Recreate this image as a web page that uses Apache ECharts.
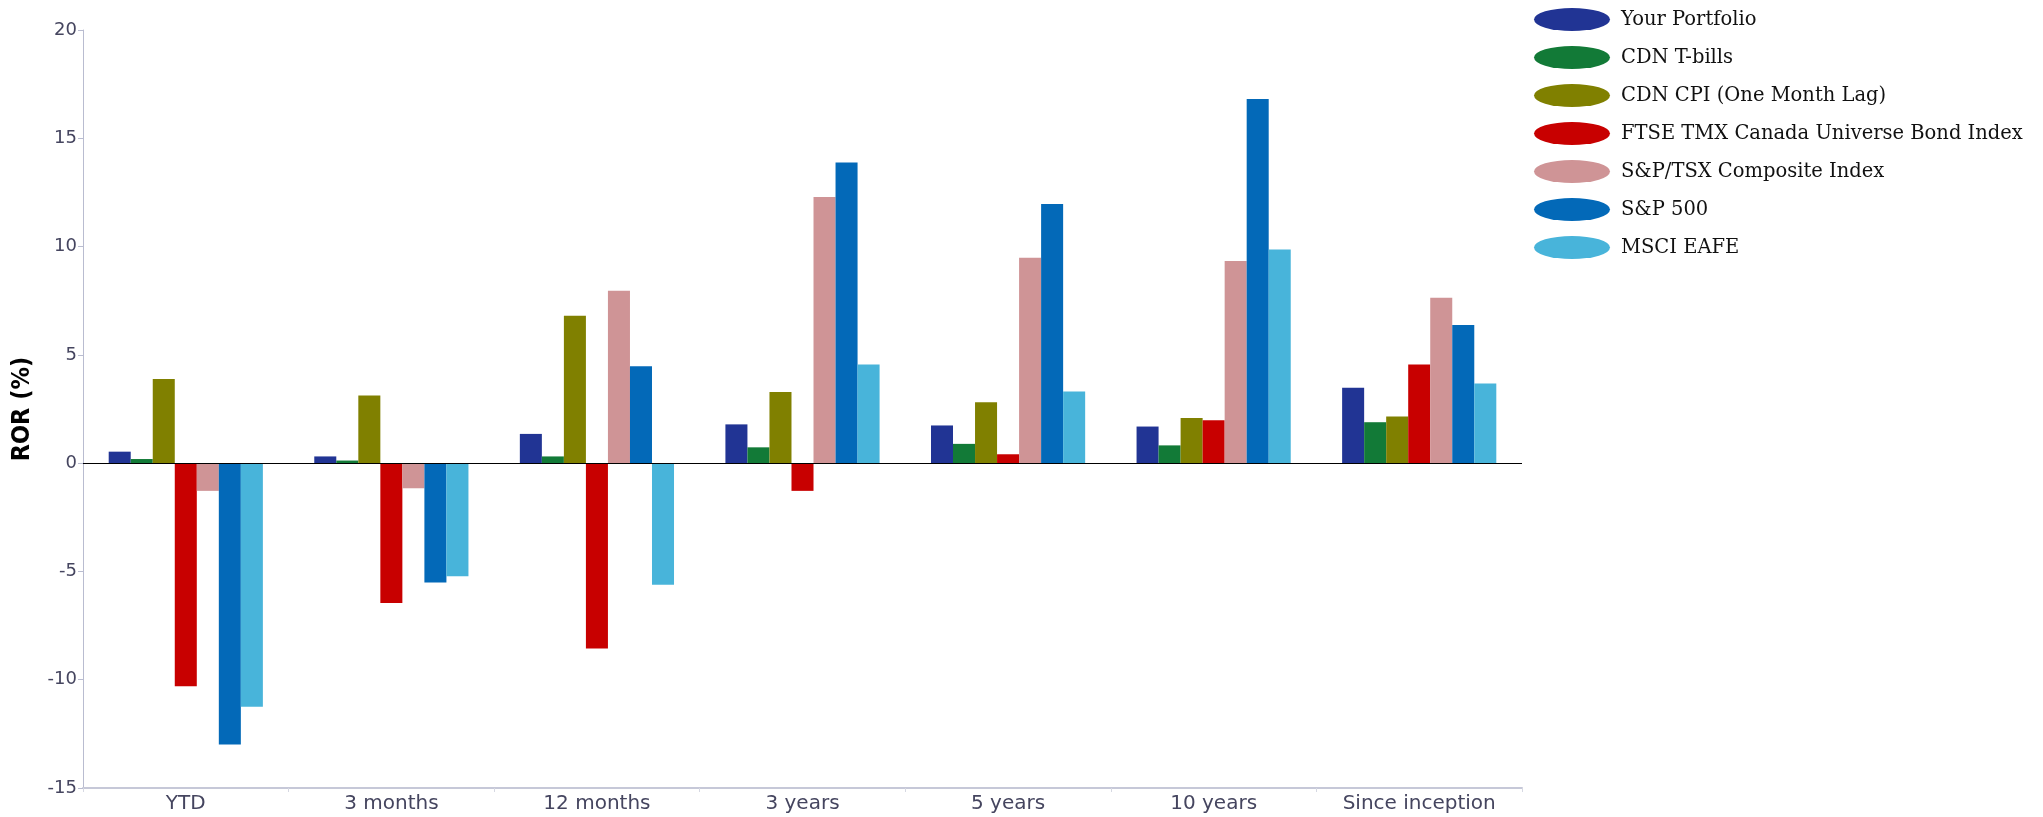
<!DOCTYPE html>
<html>
<head>
<meta charset="utf-8">
<title>Rate of Return</title>
<script src="https://cdn.jsdelivr.net/npm/echarts@6/dist/echarts.min.js"></script>
<style>
  html, body { margin: 0; padding: 0; background: #ffffff; }
  #chart { width: 2043px; height: 817px; }
</style>
</head>
<body>
<div id="chart"></div>
<script>
// Periods on the category axis
const periods = ['YTD', '3 months', '12 months', '3 years', '5 years', '10 years', 'Since inception'];

// Rate of return (%) per series, one value per period
const yourPortfolio = [0.53, 0.31, 1.35, 1.79, 1.74, 1.69, 3.48];
const cdnTBills     = [0.19, 0.12, 0.31, 0.73, 0.89, 0.82, 1.89];
const cdnCpi        = [3.89, 3.12, 6.80, 3.29, 2.81, 2.08, 2.15];
const ftseBond      = [-10.30, -6.46, -8.56, -1.28, 0.41, 1.98, 4.55];
const spTsx         = [-1.28, -1.16, 7.96, 12.29, 9.48, 9.33, 7.64];
const sp500         = [-12.99, -5.51, 4.47, 13.88, 11.97, 16.81, 6.38];
const msciEafe      = [-11.25, -5.22, -5.61, 4.55, 3.31, 9.87, 3.68];

// Value axis tick labels
const yTicks = [-15, -10, -5, 0, 5, 10, 15, 20];

const seriesDefs = [
  { name: 'Your Portfolio', data: yourPortfolio, color: '#213494' },
  { name: 'CDN T-bills', data: cdnTBills, color: '#127a37' },
  { name: 'CDN CPI (One Month Lag)', data: cdnCpi, color: '#808000' },
  { name: 'FTSE TMX Canada Universe Bond Index', data: ftseBond, color: '#c80000' },
  { name: 'S&P/TSX Composite Index', data: spTsx, color: '#cf9496' },
  { name: 'S&P 500', data: sp500, color: '#0369b8' },
  { name: 'MSCI EAFE', data: msciEafe, color: '#48b4da' }
];

const ellipseIcon = 'path://M0,11.5A38,11.5 0 1,0 76,11.5A38,11.5 0 1,0 0,11.5Z';

const chart = echarts.init(document.getElementById('chart'), null, { renderer: 'canvas' });

const series = seriesDefs.map((s, i) => {
  const item = {
    name: s.name,
    type: 'bar',
    data: s.data,
    barGap: '0%',
    barCategoryGap: '25%',
    itemStyle: { color: s.color },
    emphasis: { disabled: true }
  };
  if (i === 0) {
    // zero baseline across the plot
    item.markLine = {
      silent: true,
      symbol: ['none', 'none'],
      label: { show: false },
      lineStyle: { color: '#000000', width: 1.2, type: 'solid' },
      data: [{ yAxis: 0 }],
      z: 10
    };
  }
  return item;
});

chart.setOption({
  animation: false,
  backgroundColor: '#ffffff',
  grid: { left: 83, top: 30, width: 1439, height: 758, containLabel: false },
  legend: {
    orient: 'vertical',
    left: 1529,
    top: 3,
    itemWidth: 78,
    itemHeight: 23,
    itemGap: 15,
    icon: ellipseIcon,
    textStyle: {
      fontFamily: 'DejaVu Serif',
      fontSize: 19.5,
      color: '#111111',
      padding: [0, 0, 0, 5]
    },
    data: seriesDefs.map(s => s.name)
  },
  xAxis: {
    type: 'category',
    data: periods,
    axisLine: { onZero: false, lineStyle: { color: '#c6c8d8', width: 2 } },
    axisTick: { show: true, alignWithLabel: false, length: 4, lineStyle: { color: '#d6d8e2' } },
    axisLabel: {
      fontFamily: 'DejaVu Sans',
      fontSize: 20,
      color: '#45455f',
      margin: 6
    },
    splitLine: { show: false }
  },
  yAxis: {
    type: 'value',
    min: yTicks[0],
    max: yTicks[yTicks.length - 1],
    interval: 5,
    name: 'ROR (%)',
    nameLocation: 'middle',
    nameGap: 48,
    nameRotate: 90,
    nameTextStyle: {
      fontFamily: 'DejaVu Sans Condensed',
      fontWeight: 'bold',
      fontSize: 25,
      color: '#000000'
    },
    axisLine: { show: true, lineStyle: { color: '#b9bcd0', width: 1 } },
    axisTick: { show: true, length: 5, lineStyle: { color: '#b9bcd0' } },
    axisLabel: {
      fontFamily: 'DejaVu Sans',
      fontSize: 18,
      color: '#45455f',
      margin: 6
    },
    splitLine: { show: false }
  },
  series: series
});
</script>
</body>
</html>
